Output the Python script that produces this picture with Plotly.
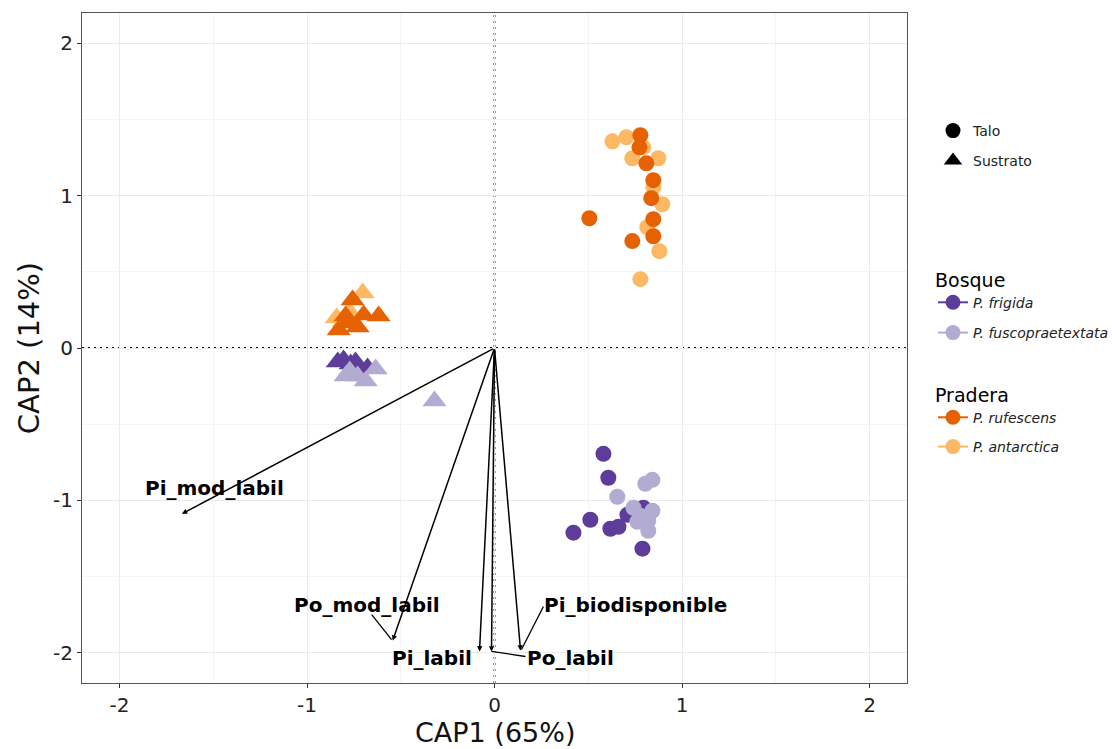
import plotly.graph_objects as go

# ---- CAP site scores (CAP1, CAP2) ----
# Talo samples (circles)
frigida_talo_x = [0.581, 0.607, 0.511, 0.421, 0.618, 0.661, 0.709, 0.794, 0.789]
frigida_talo_y = [-0.695, -0.852, -1.128, -1.213, -1.187, -1.174, -1.095, -1.049, -1.318]
fusco_talo_x = [0.655, 0.804, 0.842, 0.741, 0.842, 0.762, 0.820, 0.820, 0.778]
fusco_talo_y = [-0.977, -0.892, -0.866, -1.049, -1.069, -1.141, -1.134, -1.200, -1.102]
antarctica_talo_x = [0.629, 0.703, 0.735, 0.874, 0.847, 0.895, 0.815, 0.879, 0.778, 0.794]
antarctica_talo_y = [1.357, 1.384, 1.246, 1.246, 1.056, 0.944, 0.793, 0.636, 0.452, 1.318]
rufescens_talo_x = [0.778, 0.773, 0.810, 0.847, 0.836, 0.847, 0.847, 0.506, 0.735]
rufescens_talo_y = [1.397, 1.318, 1.213, 1.102, 0.984, 0.846, 0.734, 0.852, 0.702]

# Sustrato samples (triangles)
frigida_sus_x = [-0.805, -0.767, -0.677, -0.836, -0.741]
frigida_sus_y = [-0.079, -0.105, -0.131, -0.092, -0.092]
fusco_sus_x = [-0.634, -0.772, -0.730, -0.687, -0.794, -0.320]
fusco_sus_y = [-0.138, -0.151, -0.184, -0.216, -0.184, -0.348]
antarctica_sus_x = [-0.703, -0.842, -0.773, -0.804]
antarctica_sus_y = [0.361, 0.197, 0.236, 0.170]
rufescens_sus_x = [-0.757, -0.698, -0.618, -0.783, -0.831, -0.730, -0.794]
rufescens_sus_y = [0.315, 0.216, 0.210, 0.164, 0.118, 0.138, 0.210]

# ---- Environmental vectors (phosphorus fractions) ----
vec_names = ["Pi_mod_labil", "Po_mod_labil", "Pi_labil", "Po_labil", "Pi_biodisponible"]
vec_x = [-1.667, -0.543, -0.080, -0.016, 0.139]
vec_y = [-1.089, -1.921, -1.993, -1.993, -1.987]

# repelled label placement and leader segments
label_x = [-1.492, -0.682, -0.336, 0.405, 0.751]
label_y = [-0.918, -1.685, -2.033, -2.033, -1.685]
leaders = {
    "Po_mod_labil": ((-0.655, -1.751), (-0.549, -1.915)),
    "Po_labil": ((-0.016, -1.993), (0.165, -2.026)),
    "Pi_biodisponible": ((0.261, -1.698), (0.144, -1.980)),
}

# axis ticks (hyphen-minus labels)
tick_vals = [-2, -1, 0, 1, 2]
tick_text = ["-2", "-1", "0", "1", "2"]

COL = {
    "P. frigida": "#5E3C99",
    "P. fuscopraetextata": "#B2ABD2",
    "P. rufescens": "#E66101",
    "P. antarctica": "#FDB863",
}
FONT = "DejaVu Sans"

fig = go.Figure()

# drawing order: light tones beneath dark for Pradera, the reverse for Bosque
series = [
    ("P. frigida", frigida_talo_x, frigida_talo_y, frigida_sus_x, frigida_sus_y),
    ("P. fuscopraetextata", fusco_talo_x, fusco_talo_y, fusco_sus_x, fusco_sus_y),
    ("P. antarctica", antarctica_talo_x, antarctica_talo_y, antarctica_sus_x, antarctica_sus_y),
    ("P. rufescens", rufescens_talo_x, rufescens_talo_y, rufescens_sus_x, rufescens_sus_y),
]
for name, tx, ty, sx, sy in series:
    fig.add_trace(go.Scatter(
        x=tx, y=ty, mode="markers", showlegend=False, hoverinfo="skip",
        marker=dict(symbol="circle", size=16, color=COL[name], line=dict(width=0)),
    ))
    fig.add_trace(go.Scatter(
        x=sx, y=sy, mode="markers", showlegend=False, hoverinfo="skip",
        marker=dict(symbol="triangle-up", size=21, color=COL[name], line=dict(width=0)),
    ))

# vectors from origin
for name, x, y in zip(vec_names, vec_x, vec_y):
    fig.add_annotation(
        x=x, y=y, ax=0, ay=0, xref="x", yref="y", axref="x", ayref="y",
        text="", showarrow=True, arrowhead=2, arrowsize=0.7, arrowwidth=1.5,
        arrowcolor="black", standoff=0, startstandoff=0,
    )
for name, lx, ly in zip(vec_names, label_x, label_y):
    fig.add_annotation(
        x=lx, y=ly, xref="x", yref="y", text=name, showarrow=False,
        font=dict(family=FONT, size=20, color="black", weight="bold"),
    )
for name, ((x0, y0), (x1, y1)) in leaders.items():
    fig.add_shape(type="line", xref="x", yref="y", x0=x0, y0=y0, x1=x1, y1=y1,
                  line=dict(color="black", width=1.3), layer="above")

# dotted reference lines through origin
fig.add_shape(type="line", xref="x", yref="paper", x0=0, x1=0, y0=0, y1=1,
              line=dict(color="black", width=1.8, dash="2px,4px"), layer="below")
fig.add_shape(type="line", xref="paper", yref="y", x0=0, x1=1, y0=0, y1=0,
              line=dict(color="black", width=1.8, dash="2px,4px"), layer="below")

# x axis title, set a little lower than the default spot
fig.add_annotation(
    text="CAP1 (65%)", xref="paper", yref="paper", x=0.5, y=-0.0746,
    xanchor="center", yanchor="middle", showarrow=False, borderpad=0,
    font=dict(family=FONT, size=27, color="#111"),
)

# ---- legends ----
def legend_entry(label, legend_id, symbol, color, size, with_line):
    fig.add_trace(go.Scatter(
        x=[None], y=[None], name=label, legend=legend_id,
        mode="lines+markers" if with_line else "markers",
        line=dict(color=color, width=2),
        marker=dict(symbol=symbol, size=size, color=color),
        showlegend=True,
    ))

legend_entry("Talo", "legend", "circle", "black", 15, False)
legend_entry("Sustrato", "legend2", "triangle-up", "black", 18, False)
legend_entry("<i>P. frigida</i>", "legend3", "circle", COL["P. frigida"], 15, True)
legend_entry("<i>P. fuscopraetextata</i>", "legend4", "circle", COL["P. fuscopraetextata"], 15, True)
legend_entry("<i>P. rufescens</i>", "legend5", "circle", COL["P. rufescens"], 15, True)
legend_entry("<i>P. antarctica</i>", "legend6", "circle", COL["P. antarctica"], 15, True)

def page_y(py):
    return 1 - py / 749

legend_common = dict(xref="container", yref="container", x=933 / 1112, xanchor="left",
                     yanchor="middle", bgcolor="rgba(0,0,0,0)",
                     font=dict(family=FONT, size=14, color="#222"), itemsizing="trace")
title_font = dict(family=FONT, size=19, color="black")

fig.update_layout(
    legend=dict(legend_common, y=page_y(131)),
    legend2=dict(legend_common, y=page_y(161)),
    legend3=dict(legend_common, y=page_y(290), title=dict(text="Bosque", font=title_font)),
    legend4=dict(legend_common, y=page_y(333)),
    legend5=dict(legend_common, y=page_y(405), title=dict(text="Pradera", font=title_font)),
    legend6=dict(legend_common, y=page_y(447)),
)

axis_common = dict(
    range=[-2.2, 2.2], tickmode="array", tickvals=tick_vals, ticktext=tick_text,
    showgrid=True, gridcolor="#EBEBEB", gridwidth=1.1, automargin=False,
    zeroline=False, showline=True, mirror=True, linecolor="#555555", linewidth=1.2,
    ticks="outside", ticklen=4, tickcolor="#333333", tickwidth=1.1,
    tickfont=dict(family=FONT, size=20, color="#222"),
    minor=dict(showgrid=True, gridcolor="#F4F4F4", gridwidth=0.8, tickmode="array",
               tickvals=[-1.5, -0.5, 0.5, 1.5]),
)
fig.update_xaxes(axis_common)
fig.update_yaxes(axis_common, title=dict(text="CAP2 (14%)", font=dict(family=FONT, size=29, color="#111"), standoff=4))

fig.update_layout(
    width=1112, height=749,
    margin=dict(l=82, r=205, t=13, b=66),
    plot_bgcolor="white", paper_bgcolor="white",
    font=dict(family=FONT),
)

fig.write_html("out.html")
